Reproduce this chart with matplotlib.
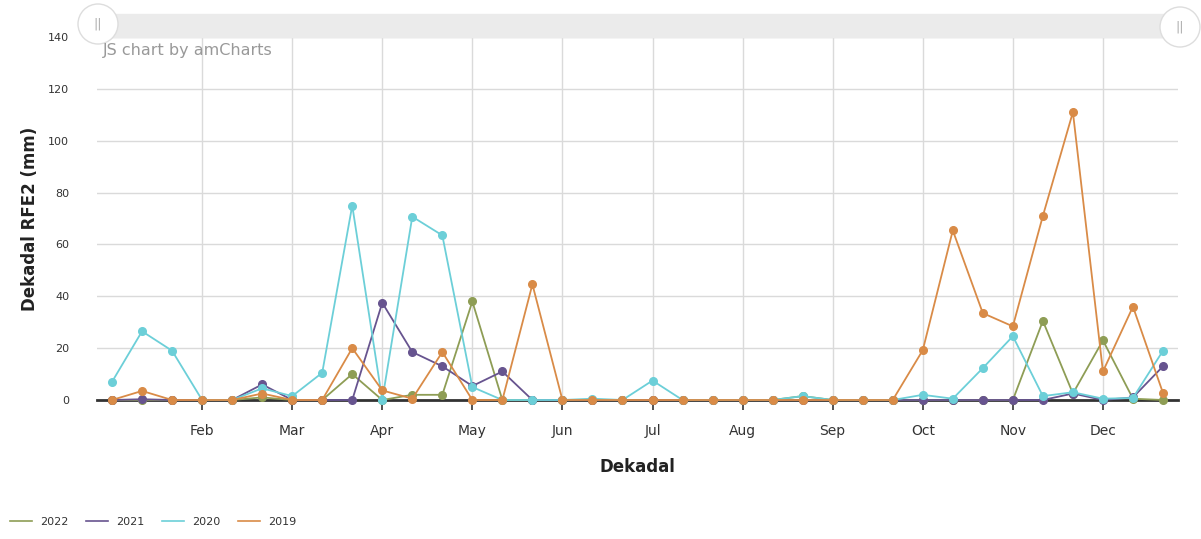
import matplotlib.pyplot as plt
from matplotlib.patches import Rectangle, Ellipse
from matplotlib.lines import Line2D
import numpy as np

# dekad index 0..35 (3 per month, Jan..Dec)
dekads = list(range(36))
month_pos = [3, 6, 9, 12, 15, 18, 21, 24, 27, 30, 33]
month_labels = ["Feb", "Mar", "Apr", "May", "Jun", "Jul", "Aug", "Sep", "Oct", "Nov", "Dec"]

rfe_2022 = [0, 0, 0, 0, 0, 1, 0, 0, 10, 0, 2, 2,
            38, 0, 0, 0, 0, 0, 0, 0, 0, 0, 0, 1.5,
            0, 0, 0, 0, 0, 0, 0, 30.5, 2.5, 23, 0.5, 0]
rfe_2021 = [0, 0.3, 0, 0, 0, 6, 0, 0, 0, 37.5, 18.5, 13,
            5.4, 11, 0, 0, 0, 0, 0, 0, 0, 0, 0, 0,
            0, 0, 0, 0, 0, 0, 0, 0, 2.5, 0, 1, 13]
rfe_2020 = [7, 26.5, 19, 0, 0, 4.5, 1.5, 10.5, 75, 0, 70.7, 63.5,
            5, 0, 0, 0, 0.5, 0, 7.5, 0, 0, 0, 0, 1.5,
            0, 0, 0, 2, 0.5, 12.3, 24.6, 1.5, 3, 0.5, 0.8, 19]
rfe_2019 = [0, 3.5, 0, 0, 0, 2.5, 0, 0, 20, 3.7, 0.5, 18.5,
            0, 0, 44.6, 0, 0, 0, 0, 0, 0, 0, 0, 0,
            0, 0, 0, 19.2, 65.4, 33.5, 28.4, 71, 111, 11, 36, 2.7]

series = [("2022", rfe_2022, "#8e9d55"),
          ("2021", rfe_2021, "#67548f"),
          ("2020", rfe_2020, "#6ccfd8"),
          ("2019", rfe_2019, "#d98b47")]

W, H = 1201, 539
fig = plt.figure(figsize=(W / 100, H / 100), dpi=100)
ax = fig.add_axes([97/W, 1-400/H, (1178-97)/W, (400-37)/H])

for name, vals, col in series:
    ax.plot(dekads, vals, color=col, linewidth=1.3, marker="o", markersize=5.5,
            label=name, zorder=3, clip_on=False)

ax.set_xlim(-0.5, 35.5)
ax.set_ylim(0, 140)
ax.set_yticks(range(0, 141, 20))
ax.set_xticks(month_pos)
ax.set_xticklabels(month_labels, fontsize=10, color="#333333")
ax.tick_params(axis="y", labelsize=8, length=0, pad=20, colors="#333333")
ax.tick_params(axis="x", length=7, width=1.2, color="#333333", pad=10)
ax.grid(True, color="#dadada", linewidth=1)
for s in ["top", "right", "left"]:
    ax.spines[s].set_visible(False)
ax.spines["bottom"].set_color("#333333")
ax.spines["bottom"].set_linewidth(2)
ax.spines["bottom"].set_zorder(2)

ax.set_ylabel("Dekadal RFE2 (mm)", fontsize=12, fontweight="bold", color="#222222")
ax.yaxis.set_label_coords((39-97)/1081, 0.5)
ax.set_xlabel("Dekadal", fontsize=12, fontweight="bold", color="#222222")
ax.xaxis.set_label_coords(0.5, -(467-400)/363)
ax.xaxis.label.set_va("center")

# amCharts credit + scrollbar
fig.text(103/W, 1-51/H, "JS chart by amCharts", fontsize=11.5, color="#999999", va="center")
fig.patches.append(Rectangle((95/W, 1-37/H), (1180-95)/W, 23/H,
                             transform=fig.transFigure, color="#ebebeb", zorder=0))
for cx, cy in [(98, 24), (1180, 27)]:
    fig.patches.append(Ellipse((cx/W, 1-cy/H), 40/W, 40/H, transform=fig.transFigure,
                               facecolor="white", edgecolor="#dddddd", lw=1, zorder=1))
    fig.text(cx/W, 1-cy/H, "||", fontsize=9, color="#aaaaaa", ha="center", va="center")

handles = [Line2D([0], [0], color=c, lw=1.2) for _, _, c in series]
leg = fig.legend(handles, [n for n, _, _ in series], loc="center left",
                 bbox_to_anchor=(0.0, 1-522/H), ncol=4, frameon=False, fontsize=8,
                 handlelength=2, columnspacing=1.6, handletextpad=0.7)
for t in leg.get_texts():
    t.set_color("#333333")

fig.savefig("out.png", dpi=100)
